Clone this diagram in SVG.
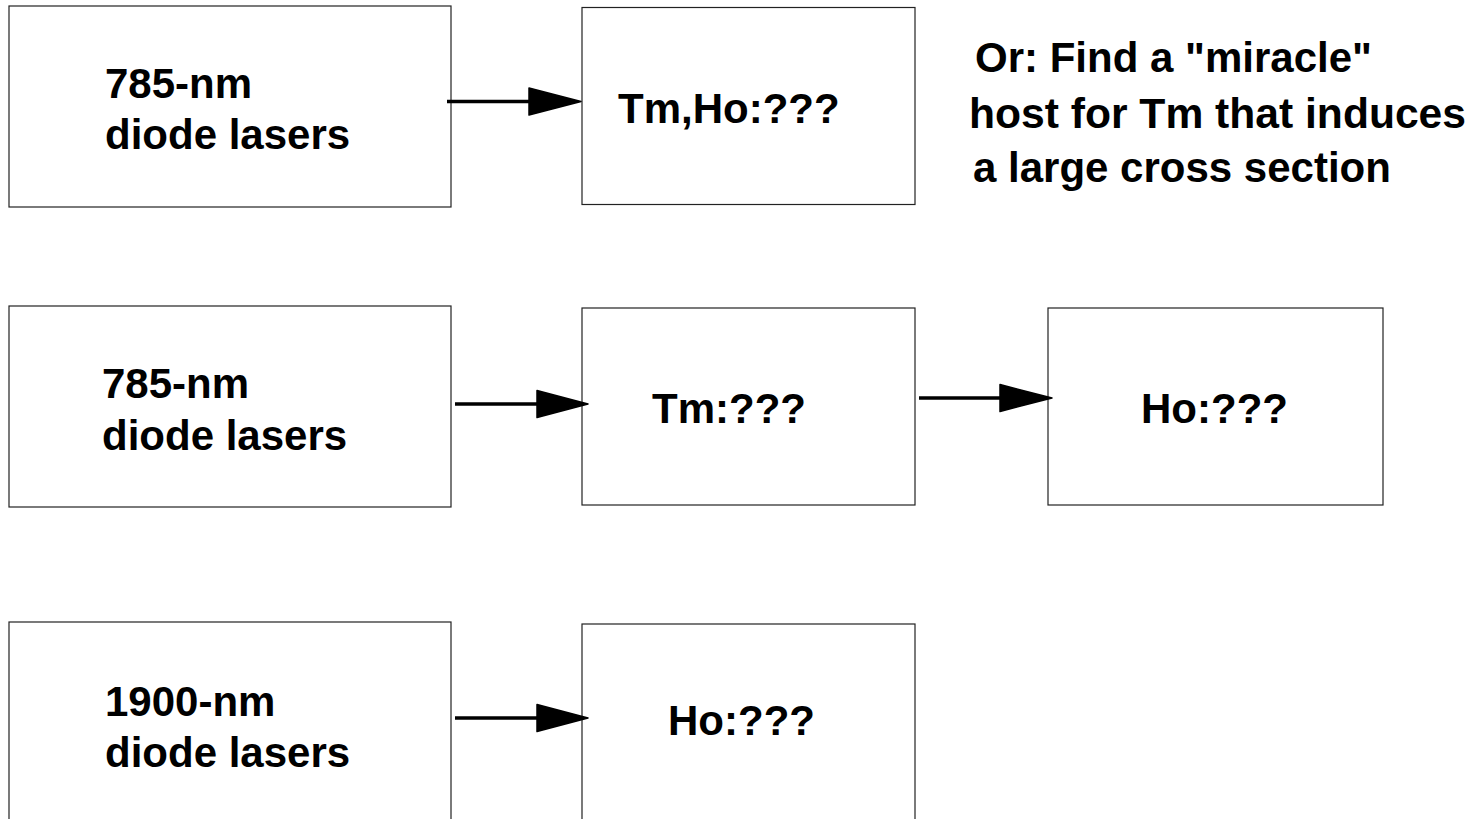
<svg xmlns="http://www.w3.org/2000/svg" width="1479" height="819" viewBox="0 0 1479 819">
<style>
.box{fill:#fff;stroke:#222;stroke-width:1.2}
.t{font-family:"Liberation Sans",Arial,sans-serif;font-weight:bold;font-size:42px;fill:#000}
.ln{stroke:#000;stroke-width:3.5;fill:none}
.hd{fill:#000;stroke:#000;stroke-width:1.5;stroke-linejoin:round}
</style>
<rect width="1479" height="819" fill="#fff"/>
<g id="n1">
<rect class="box" x="9" y="6" width="442" height="201"/>
<text class="t" x="105" y="98">785-nm</text>
<text class="t" x="105" y="149">diode lasers</text>
</g>
<g id="n2">
<rect class="box" x="582" y="7.5" width="333" height="197"/>
<text class="t" x="618" y="123">Tm,Ho:???</text>
</g>
<g id="note">
<text class="t" x="975" y="72">Or: Find a "miracle"</text>
<text class="t" x="969" y="128" textLength="497" lengthAdjust="spacingAndGlyphs">host for Tm that induces</text>
<text class="t" x="973" y="182">a large cross section</text>
</g>
<g id="n3">
<rect class="box" x="9" y="306" width="442" height="201"/>
<text class="t" x="102" y="398">785-nm</text>
<text class="t" x="102" y="450">diode lasers</text>
</g>
<g id="n4">
<rect class="box" x="582" y="308" width="333" height="197"/>
<text class="t" x="652" y="423">Tm:???</text>
</g>
<g id="n5">
<rect class="box" x="1048" y="308" width="335" height="197"/>
<text class="t" x="1141" y="423">Ho:???</text>
</g>
<g id="n6">
<rect class="box" x="9" y="622" width="442" height="210"/>
<text class="t" x="105" y="716">1900-nm</text>
<text class="t" x="105" y="767">diode lasers</text>
</g>
<g id="n7">
<rect class="box" x="582" y="624" width="333" height="210"/>
<text class="t" x="668" y="735">Ho:???</text>
</g>
<g id="connectors">
<line class="ln" x1="447" y1="101.5" x2="531" y2="101.5"/>
<polygon class="hd" points="529,88 581,101.5 529,115"/>
<line class="ln" x1="455" y1="404" x2="539" y2="404"/>
<polygon class="hd" points="537,390.5 588,404 537,417.5"/>
<line class="ln" x1="919" y1="398" x2="1002" y2="398"/>
<polygon class="hd" points="1000,384.5 1052,398 1000,411.5"/>
<line class="ln" x1="455" y1="718" x2="539" y2="718"/>
<polygon class="hd" points="537,704.5 588,718 537,731.5"/>
</g>
</svg>
